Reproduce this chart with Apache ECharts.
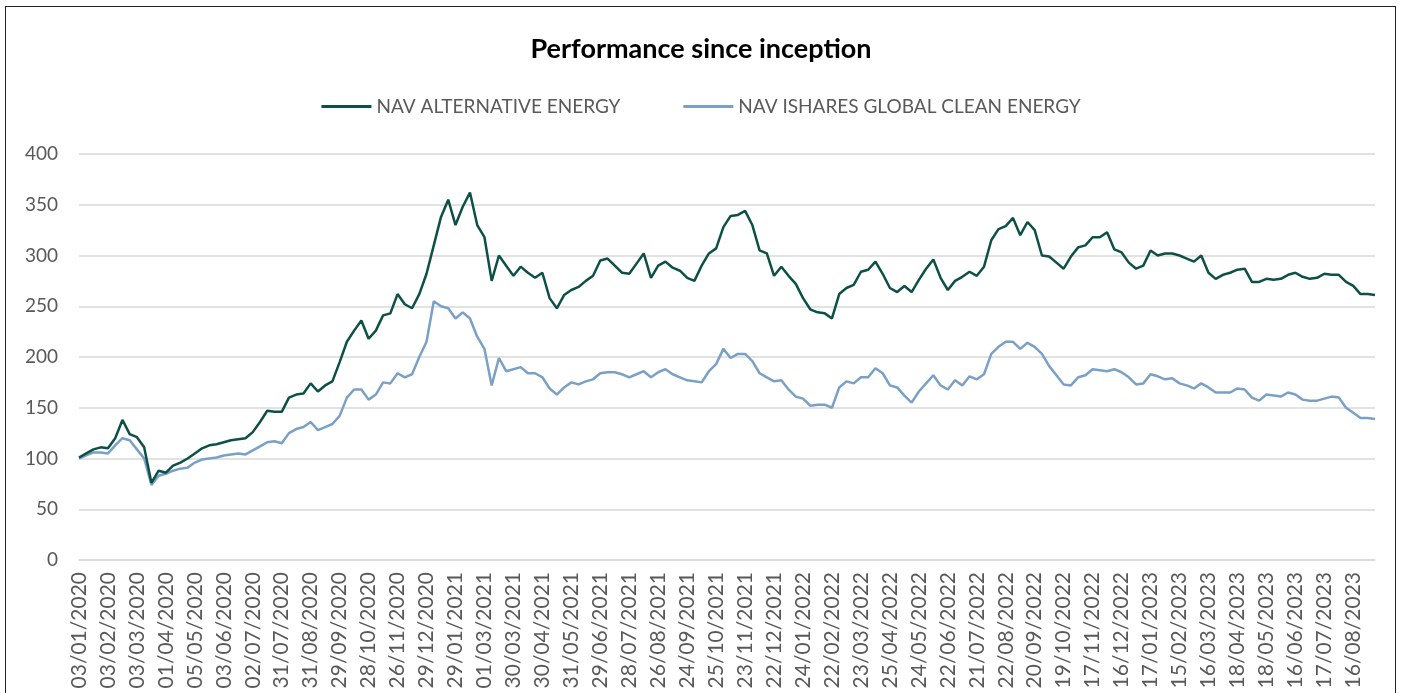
<!DOCTYPE html>
<html>
<head>
<meta charset="utf-8">
<script src="https://cdn.jsdelivr.net/npm/echarts@6/dist/echarts.min.js"></script>
<style>
  html, body { margin: 0; padding: 0; background: #fff; }
  #chart { position: absolute; left: 0; top: 0; width: 1402px; height: 693px; }
  #frame { position: absolute; left: 5px; top: 6px; width: 1391px; height: 720px; border: 1px solid #222; box-sizing: border-box; pointer-events: none; }
</style>
</head>
<body>
<div id="chart"></div>
<div id="frame"></div>
<script>
// Tick labels shown on the x axis (one every 21 trading days)
const tickLabels = [
  '03/01/2020','03/02/2020','03/03/2020','01/04/2020','05/05/2020','03/06/2020','02/07/2020','31/07/2020',
  '31/08/2020','29/09/2020','28/10/2020','26/11/2020','29/12/2020','29/01/2021','01/03/2021','30/03/2021',
  '30/04/2021','31/05/2021','29/06/2021','28/07/2021','26/08/2021','24/09/2021','25/10/2021','23/11/2021',
  '22/12/2021','24/01/2022','22/02/2022','23/03/2022','25/04/2022','24/05/2022','22/06/2022','21/07/2022',
  '22/08/2022','20/09/2022','19/10/2022','17/11/2022','16/12/2022','17/01/2023','15/02/2023','16/03/2023',
  '18/04/2023','18/05/2023','16/06/2023','17/07/2023','16/08/2023'
];
// sampled points per labelled interval
const STEPS = 4;

// NAV ALTERNATIVE ENERGY
const altEnergy = [
  101,105,109,111,110,120,138,124,121,111,
  76,88,86,93,96,100,105,110,113,114,
  116,118,119,120,126,136,147,146,146,160,
  163,164,174,166,172,176,195,215,226,236,
  218,226,241,243,262,252,248,262,282,310,
  338,355,330,348,362,330,318,275,300,290,
  280,289,283,278,283,258,248,261,266,269,
  275,280,295,297,290,283,282,292,302,278,
  290,294,288,285,278,275,290,302,307,328,
  339,340,344,330,305,302,280,289,280,272,
  258,247,244,243,238,262,268,271,284,286,
  294,282,268,264,270,264,276,287,296,278,
  266,275,279,284,280,289,315,326,329,337,
  320,333,325,300,299,293,287,299,308,310,
  318,318,323,306,303,293,287,290,305,300,
  302,302,300,297,294,300,283,277,281,283,
  286,287,274,274,277,276,277,281,283,279,
  277,278,282,281,281,274,270,262,262,261
];
// NAV ISHARES GLOBAL CLEAN ENERGY
const cleanEnergy = [
  100,103,106,106,105,113,120,118,109,100,
  74,83,85,88,90,91,96,99,100,101,
  103,104,105,104,108,112,116,117,115,125,
  129,131,136,128,131,134,142,160,168,168,
  158,163,175,174,184,180,183,200,215,255,
  250,248,238,244,238,220,208,172,199,186,
  188,190,184,184,180,169,163,170,175,173,
  176,178,184,185,185,183,180,183,186,180,
  185,188,183,180,177,176,175,186,193,208,
  199,203,203,196,184,180,176,177,168,161,
  159,152,153,153,150,170,176,174,180,180,
  189,184,172,170,162,155,166,174,182,172,
  168,177,172,181,178,183,203,210,215,215,
  208,214,210,203,191,182,173,172,180,182,
  188,187,186,188,185,180,173,174,183,181,
  178,179,174,172,169,174,170,165,165,165,
  169,168,160,157,163,162,161,165,163,158,
  157,157,159,161,160,150,145,140,140,139
];
const seriesNames = ['NAV ALTERNATIVE ENERGY', 'NAV ISHARES GLOBAL CLEAN ENERGY'];
const yTicks = { min: 0, max: 400, interval: 50 };

// category names: labelled dates every STEPS points, unique placeholders between
const categories = altEnergy.map(function (_, i) {
  const k = Math.min(Math.floor(i / STEPS), tickLabels.length - 1);
  return i % STEPS === 0 && Math.floor(i / STEPS) < tickLabels.length ? tickLabels[k] : tickLabels[k] + ' +' + (i % STEPS);
});

const chart = echarts.init(document.getElementById('chart'), null, { renderer: 'canvas' });
chart.setOption({
  animation: false,
  backgroundColor: '#ffffff',
  title: {
    text: 'Performance since inception',
    left: 'center',
    top: 31,
    textStyle: { fontFamily: 'Lato', fontWeight: 'bold', fontSize: 27, color: '#000000' }
  },
  legend: {
    data: seriesNames,
    left: 'center',
    top: 92,
    icon: 'rect',
    itemWidth: 50,
    itemHeight: 3,
    itemGap: 63,
    textStyle: { fontFamily: 'Lato', fontSize: 19, color: '#595959' }
  },
  grid: { left: 79, right: 27, top: 154, bottom: 133, containLabel: false },
  xAxis: {
    type: 'category',
    data: categories,
    boundaryGap: false,
    axisLine: { show: true, lineStyle: { color: '#d9d9d9', width: 1.5 } },
    axisTick: { show: false },
    axisLabel: {
      interval: STEPS - 1,
      rotate: 90,
      margin: 12,
      fontFamily: 'Lato',
      fontSize: 21,
      color: '#595959'
    },
    splitLine: { show: false }
  },
  yAxis: {
    type: 'value',
    min: yTicks.min,
    max: yTicks.max,
    interval: yTicks.interval,
    axisLine: { show: false },
    axisTick: { show: false },
    axisLabel: { margin: 21, fontFamily: 'Lato', fontSize: 19, color: '#595959' },
    splitLine: { show: true, lineStyle: { color: '#d9d9d9', width: 1.5 } }
  },
  series: [
    {
      name: seriesNames[0],
      type: 'line',
      data: altEnergy,
      symbol: 'none',
      lineStyle: { color: '#0d5046', width: 2.5 },
      itemStyle: { color: '#0d5046' },
      z: 3
    },
    {
      name: seriesNames[1],
      type: 'line',
      data: cleanEnergy,
      symbol: 'none',
      lineStyle: { color: '#7aa0c6', width: 2.5 },
      itemStyle: { color: '#7aa0c6' },
      z: 2
    }
  ]
});
</script>
</body>
</html>
